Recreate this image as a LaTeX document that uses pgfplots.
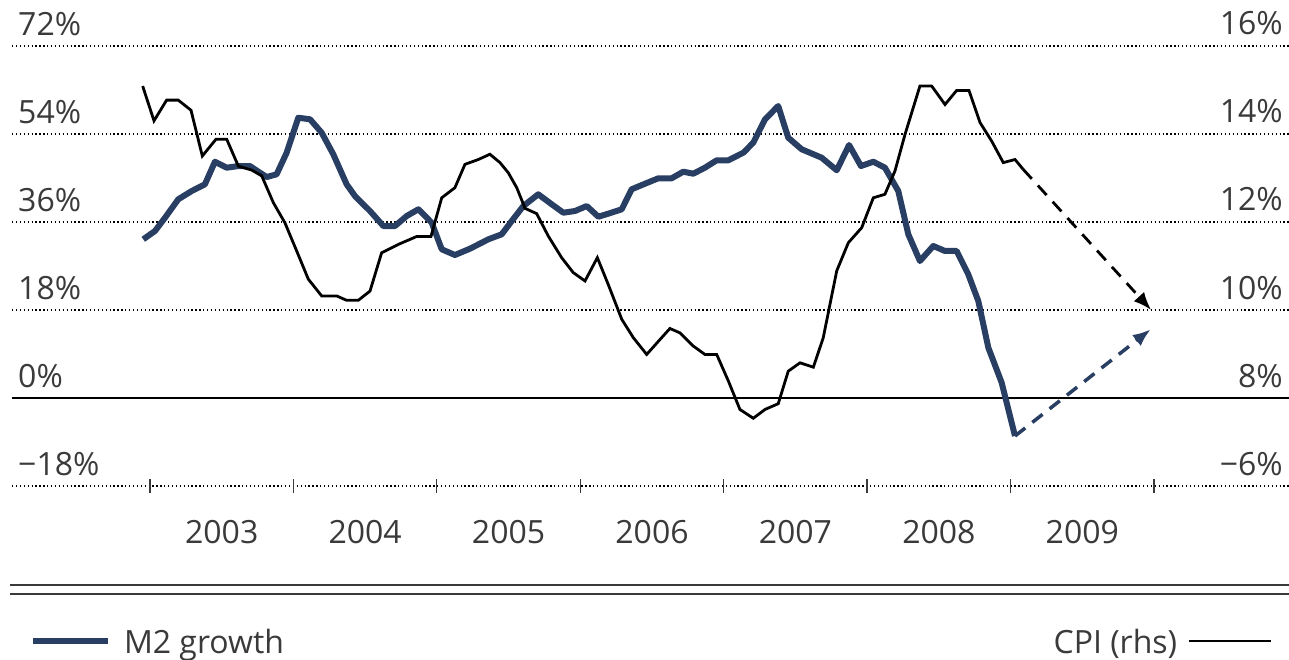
\documentclass[border=0pt]{standalone}
\usepackage{fontspec}
\setmainfont{Open Sans}
\usepackage{pgfplots}
\usepackage{pgfplotstable}
\pgfplotsset{compat=1.18}
\usetikzlibrary{arrows.meta}
\definecolor{navy}{HTML}{283E62}
\definecolor{txt}{HTML}{3A3A3A}

\pgfplotstableread{
year m2
2002.953 32.46
2003.035 34.16
2003.105 36.88
2003.197 40.64
2003.291 42.34
2003.383 43.71
2003.453 48.33
2003.535 47.11
2003.616 47.45
2003.697 47.45
2003.767 46.08
2003.814 45.20
2003.883 45.76
2003.953 50.18
2004.034 57.33
2004.116 57.01
2004.197 54.27
2004.278 49.85
2004.371 43.71
2004.429 41.32
2004.534 38.25
2004.627 35.18
2004.708 35.18
2004.790 37.23
2004.871 38.60
2004.964 35.86
2005.034 30.42
2005.126 29.25
2005.231 30.54
2005.359 32.46
2005.452 33.48
2005.522 36.20
2005.603 39.27
2005.707 41.67
2005.801 39.62
2005.882 37.90
2005.963 38.25
2006.045 39.27
2006.126 37.08
2006.195 37.70
2006.289 38.60
2006.358 42.69
2006.451 43.83
2006.544 44.94
2006.637 44.94
2006.718 46.29
2006.788 45.88
2006.869 47.11
2006.951 48.62
2007.032 48.62
2007.137 50.18
2007.206 52.22
2007.288 57.01
2007.380 59.73
2007.450 53.24
2007.544 50.87
2007.683 49.15
2007.788 46.58
2007.874 51.75
2007.957 47.45
2008.043 48.33
2008.124 47.11
2008.217 42.34
2008.287 33.48
2008.368 28.02
2008.461 31.09
2008.543 30.07
2008.624 30.07
2008.705 25.30
2008.775 19.84
2008.845 10.29
2008.938 3.13
2009.031 -7.77
}\mtwo

\pgfplotstableread{
year m2
2009.031 -7.77
2009.977 14.05
}\mtwofc

\pgfplotstableread{
year cpi
2002.949 15.09
2003.028 14.30
2003.116 14.77
2003.197 14.77
2003.286 14.54
2003.365 13.50
2003.460 13.88
2003.535 13.88
2003.616 13.27
2003.709 13.18
2003.779 13.05
2003.860 12.44
2003.941 11.98
2004.023 11.34
2004.104 10.70
2004.197 10.32
2004.302 10.32
2004.371 10.22
2004.452 10.22
2004.534 10.43
2004.615 11.30
2004.731 11.49
2004.859 11.67
2004.959 11.67
2005.034 12.55
2005.126 12.78
2005.196 13.31
2005.289 13.42
2005.370 13.54
2005.440 13.35
2005.498 13.12
2005.557 12.78
2005.615 12.31
2005.696 12.19
2005.777 11.68
2005.870 11.19
2005.951 10.85
2006.033 10.66
2006.119 11.19
2006.195 10.58
2006.289 9.79
2006.370 9.37
2006.463 8.99
2006.556 9.33
2006.625 9.58
2006.695 9.48
2006.788 9.18
2006.869 8.99
2006.951 8.99
2007.032 8.39
2007.113 7.74
2007.206 7.54
2007.288 7.74
2007.380 7.87
2007.450 8.61
2007.532 8.80
2007.625 8.70
2007.694 9.37
2007.741 10.13
2007.788 10.89
2007.869 11.53
2007.962 11.87
2008.043 12.55
2008.124 12.63
2008.194 13.16
2008.264 13.99
2008.368 15.09
2008.450 15.09
2008.543 14.67
2008.624 14.99
2008.710 14.99
2008.787 14.26
2008.868 13.84
2008.949 13.35
2009.031 13.42
2009.087 13.20
}\cpi

\pgfplotstableread{
year cpi
2009.087 13.20
2009.980 10.00
}\cpifc

\begin{document}
\begin{tikzpicture}[x=1pt,y=1pt]
\path[use as bounding box] (0,0) rectangle (1289,659);
\begin{axis}[
  at={(12pt,173pt)}, anchor=south west,
  scale only axis, width=1277pt, height=440pt,
  xmin=2002.038, xmax=2010.941,
  ymin=-18, ymax=72,
  axis x line*=bottom, axis y line*=left,
  x axis line style={draw=none}, y axis line style={draw=none},
  xtick={2003,2004,2005,2006,2007,2008,2009,2010},
  x tick label as interval,
  xticklabels={2003,2004,2005,2006,2007,2008,2009},
  xtick align=center, ytick align=inside,
  major tick length=14pt,
  xtick style={txt, line width=1.3pt},
  xticklabel style={font=\fontsize{32pt}{38pt}\selectfont, text=txt, anchor=base, inner sep=0pt, yshift=-50pt},
  ytick={-18,18,36,54,72},
  yticklabels={−18\%,18\%,36\%,54\%,72\%},
  extra y ticks={0}, extra y tick labels={0\%},
  extra y tick style={grid style={solid, black, line width=1.3pt, dash pattern=}},
  ymajorgrids,
  grid style={black, line width=1.2pt, dash pattern=on 1.3pt off 2.6pt},
  ytick style={draw=none},
  yticklabel style={font=\fontsize{32pt}{38pt}\selectfont, text=txt, anchor=base west, inner sep=0pt, xshift=6pt, yshift=11pt},
  legend style={at={(axis description cs:0.0141,-0.3523)}, anchor=west, draw=none, fill=none, inner sep=0pt, outer sep=0pt,
    font=\fontsize{32pt}{38pt}\selectfont, text=txt,
    nodes={inner sep=0pt, text depth=0pt},
    /tikz/every odd column/.style={column sep=13pt}},
  legend cell align=left,
  legend image code/.code={\draw[#1] (0pt,0pt) -- (75pt,0pt);},
]
\addplot[navy, line width=6pt, line join=round] table[x=year, y=m2] {\mtwo};
\addlegendentry{M2 growth}
\addplot[navy, line width=3.5pt, dash pattern=on 13pt off 9pt, -{Latex[length=18pt,width=14pt]}, forget plot] table[x=year, y=m2] {\mtwofc};
\end{axis}
\begin{axis}[
  at={(12pt,173pt)}, anchor=south west,
  scale only axis, width=1277pt, height=440pt,
  xmin=2002.038, xmax=2010.941,
  ymin=6, ymax=16,
  axis x line=none, axis y line*=right,
  y axis line style={draw=none},
  ytick={6,8,10,12,14,16},
  yticklabels={−6\%,8\%,10\%,12\%,14\%,16\%},
  ytick style={draw=none}, ytick align=inside,
  yticklabel style={font=\fontsize{32pt}{38pt}\selectfont, text=txt, anchor=base east, inner sep=0pt, xshift=-6pt, yshift=11pt},
  legend style={at={(axis description cs:0.9867,-0.3523)}, anchor=east, draw=none, fill=none, inner sep=0pt, outer sep=0pt,
    font=\fontsize{32pt}{38pt}\selectfont, text=txt,
    nodes={inner sep=0pt, text depth=0pt},
    /tikz/every odd column/.style={column sep=10pt}},
  legend plot pos=right,
  legend image code/.code={\draw[#1] (0pt,0pt) -- (82pt,0pt);},
]
\addplot[black, line width=2.8pt, line join=miter] table[x=year, y=cpi] {\cpi};
\addlegendentry{CPI (rhs)}
\addplot[black, line width=2.8pt, dash pattern=on 13pt off 9pt, -{Latex[length=18pt,width=14pt]}, forget plot] table[x=year, y=cpi] {\cpifc};
\end{axis}
\draw[txt, line width=1.6pt] (10,74) -- (1289,74);
\draw[txt, line width=1.6pt] (10,65) -- (1289,65);
\end{tikzpicture}
\end{document}
